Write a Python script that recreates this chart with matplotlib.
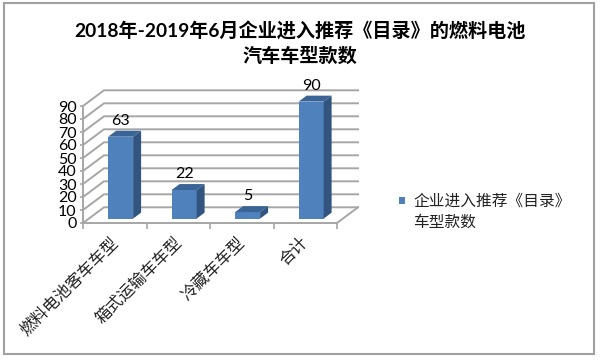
import matplotlib
matplotlib.use('Agg')
import matplotlib.pyplot as plt
from matplotlib.patches import Polygon, Rectangle

plt.rcParams['font.family'] = ['Lato', 'Noto Sans CJK SC', 'DejaVu Sans']

# Datos
categorias = ['燃料电池客车车型', '箱式运输车车型', '冷藏车车型', '合计']
valores = [63, 22, 5, 90]
marcas_y = [0, 10, 20, 30, 40, 50, 60, 70, 80, 90]
titulo = '2018年-2019年6月企业进入推荐《目录》的燃料电池\n汽车车型款数'
leyenda = '企业进入推荐《目录》\n车型款数'

gris = '#a6a6a6'
frente = '#4f81bd'
lado = '#32557f'
tapa = '#3a6496'

fig = plt.figure(figsize=(6.0, 3.62), dpi=100)

# marco exterior
fig.add_artist(Rectangle((4 / 600, 1 - 354 / 362), 590 / 600, 351 / 362, transform=fig.transFigure,
                         facecolor='white', edgecolor='#a0a0a0', linewidth=1.5, zorder=-1))

# 63.5 px por categoria, 1.3 px por unidad
ax = fig.add_axes([83 / 600, (362 - 223) / 362, 275 / 600, 135 / 362])
ax.set_xlim(0, 275 / 63.5)
ax.set_ylim(0, 135 / 1.3)
ax.patch.set_visible(False)

# falsa perspectiva
prof_x = 21 / 63.5
prof_y = 15.7 / 1.3
n = len(categorias)

for v in marcas_y:
    ax.plot([0, prof_x, n + prof_x], [v, v + prof_y, v + prof_y], color=gris, lw=1.4, zorder=1, clip_on=False)
ax.plot([n, n + prof_x], [0, prof_y], color=gris, lw=1.4, zorder=1, clip_on=False)

ini = 0.28
fondo = 0.38
ancho = 25 / 63.5
dx = prof_x * fondo
dy = prof_y * fondo
for i, val in enumerate(valores):
    x0 = i + 0.5 - ancho / 2 + prof_x * ini
    y0 = prof_y * ini
    ax.bar(x0, val, width=ancho, bottom=y0, align='edge', color=frente, zorder=3)
    ax.add_patch(Polygon([(x0 + ancho, y0), (x0 + ancho + dx, y0 + dy), (x0 + ancho + dx, y0 + val + dy),
                          (x0 + ancho, y0 + val)], facecolor=lado, edgecolor='none', zorder=3))
    ax.add_patch(Polygon([(x0, y0 + val), (x0 + dx, y0 + val + dy), (x0 + ancho + dx, y0 + val + dy),
                          (x0 + ancho, y0 + val)], facecolor=tapa, edgecolor='none', zorder=3))
    ax.annotate(str(val), (x0 + ancho / 2, y0 + val), xytext=(0, 11.5), textcoords='offset points',
                ha='center', va='center', fontsize=11.5, color='black', zorder=4)

for s in ['top', 'right']:
    ax.spines[s].set_visible(False)
for s in ['left', 'bottom']:
    ax.spines[s].set_color(gris)
    ax.spines[s].set_linewidth(1.4)
ax.spines['left'].set_bounds(0, 90)
ax.spines['bottom'].set_bounds(0, n)

ax.set_yticks(marcas_y)
ax.set_yticklabels([str(v) for v in marcas_y], fontsize=11.5)
ax.tick_params(axis='y', length=2.5, width=1.2, color=gris, pad=2)
ax.set_xticks(range(n + 1))
ax.set_xticklabels([])
ax.tick_params(axis='x', length=4, width=1.2, color=gris)

# etiquetas giradas, terminan junto a cada marca
for i, cat in enumerate(categorias):
    ax.annotate(cat, (i + 0.5, 0), xytext=(0.5, -12), textcoords='offset points', rotation=45,
                rotation_mode='anchor', ha='right', va='center', fontsize=11.8, color='#222222')

fig.text(300 / 600, 1 - 43 / 362, titulo, ha='center', va='center', fontsize=13.8, fontweight='bold',
         linespacing=1.4, color='black')

# leyenda
fig.add_artist(Rectangle((399 / 600, 1 - 204 / 362), 6 / 600, 7 / 362, transform=fig.transFigure,
                         facecolor=frente, edgecolor='none'))
fig.text(413 / 600, 1 - 212 / 362, leyenda, ha='left', va='center', fontsize=11.3, linespacing=1.5,
         color='#222222')

fig.savefig('out.png', dpi=100)
